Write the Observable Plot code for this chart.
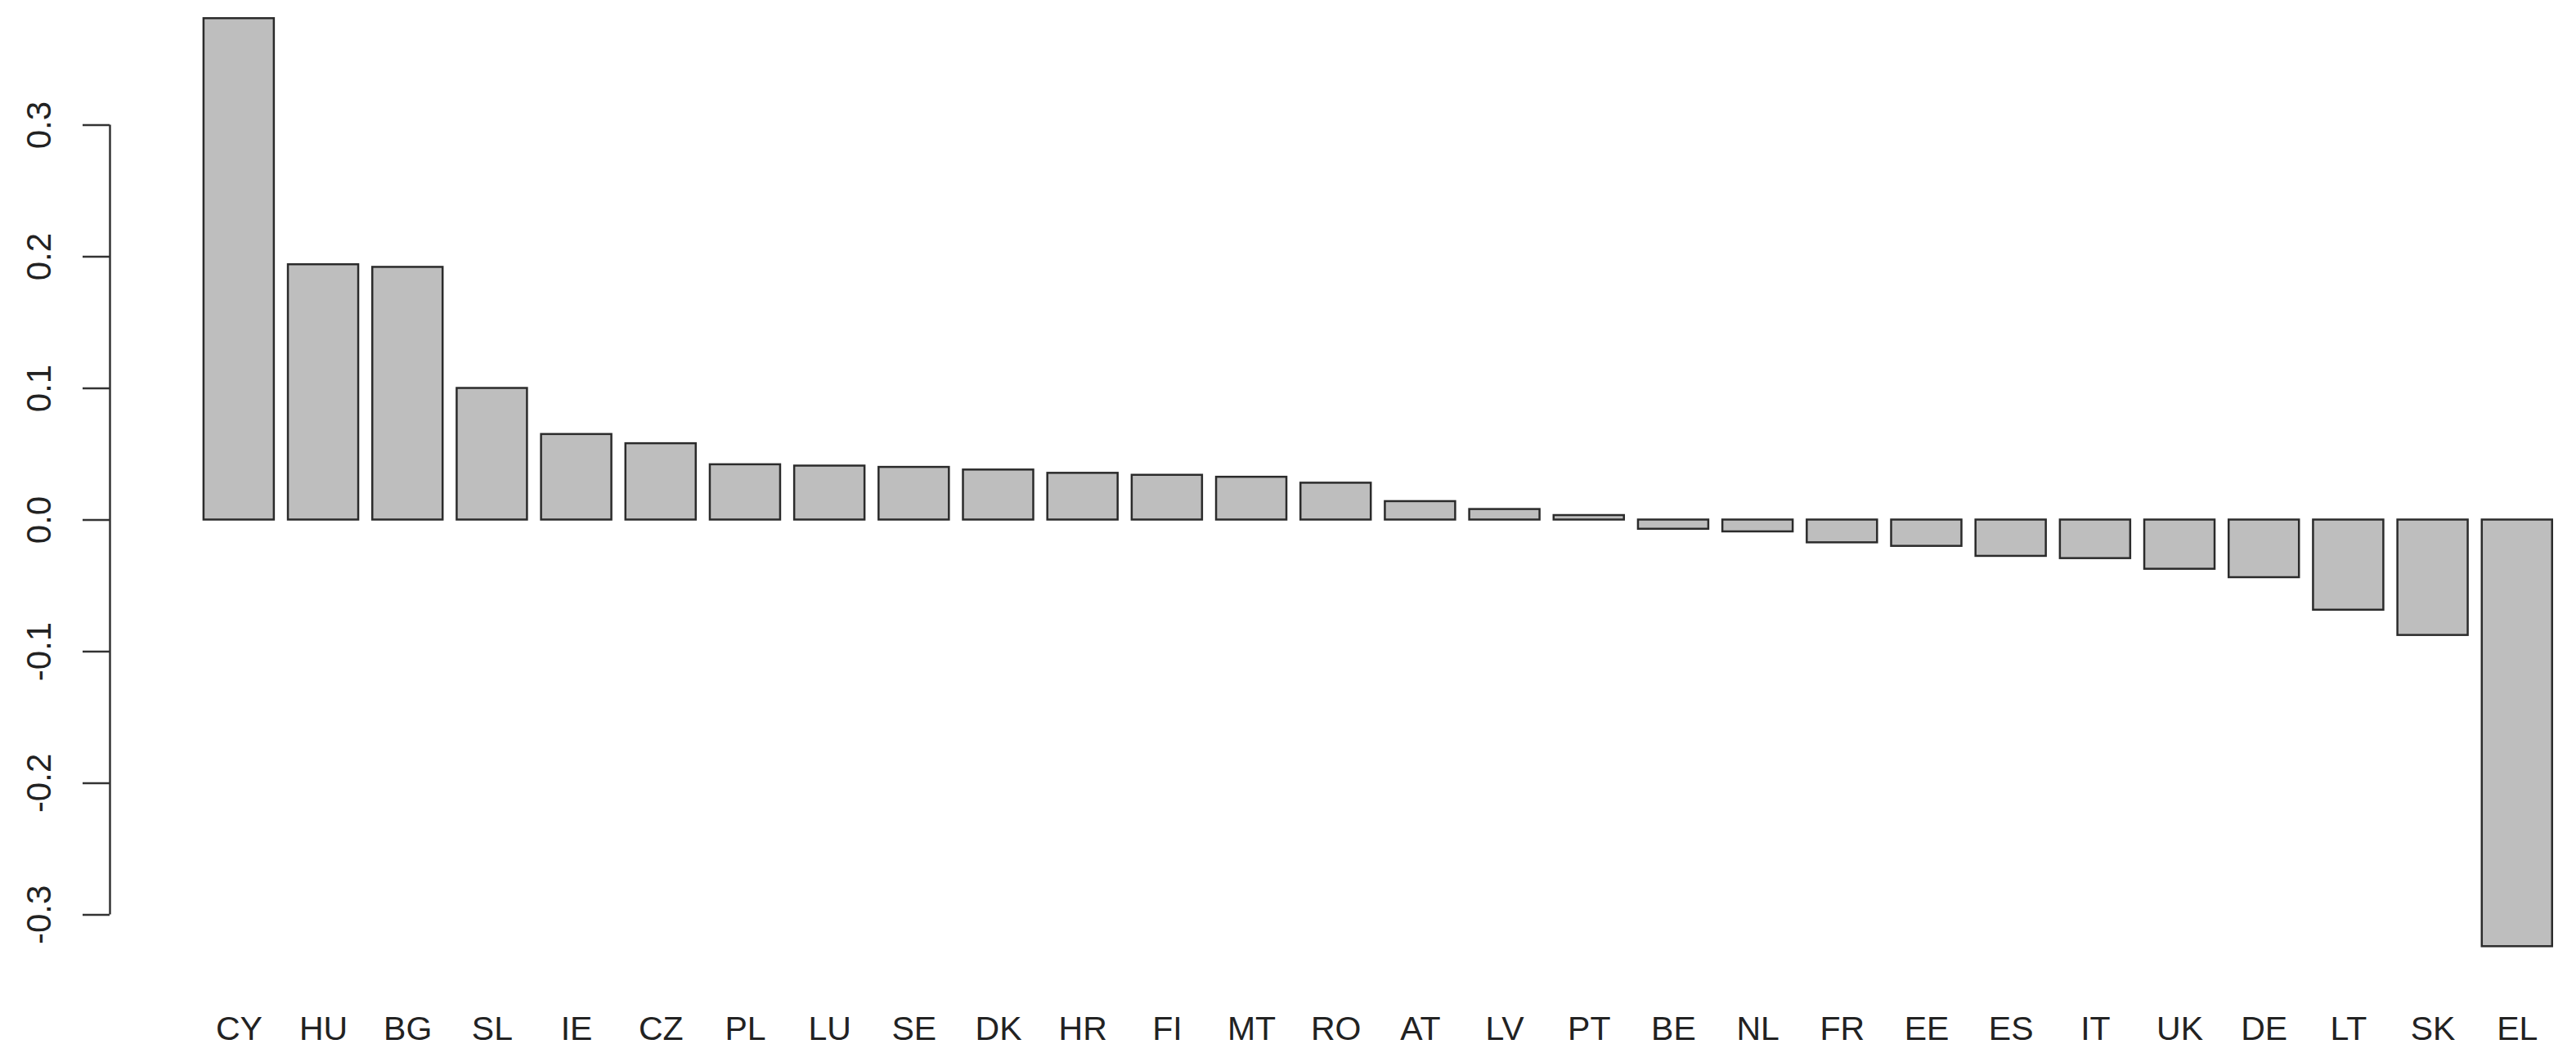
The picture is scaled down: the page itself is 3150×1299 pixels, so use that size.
<!DOCTYPE html>
<html><head><meta charset="utf-8">
<script src="https://cdn.jsdelivr.net/npm/d3@7"></script>
<script src="https://cdn.jsdelivr.net/npm/@observablehq/plot@0.6"></script>
<style>html,body{margin:0;padding:0;background:#fff;overflow:hidden}</style>
</head><body><div id="chart"></div>
<script>
const countries = ["CY","HU","BG","SL","IE","CZ","PL","LU","SE","DK","HR","FI","MT","RO","AT","LV","PT","BE","NL","FR","EE","ES","IT","UK","DE","LT","SK","EL"];
const values = [0.381,0.194,0.192,0.100,0.065,0.058,0.042,0.041,0.040,0.038,0.0355,0.034,0.0325,0.028,0.014,0.008,0.0034,-0.007,-0.009,-0.0173,-0.020,-0.0276,-0.0293,-0.0374,-0.0438,-0.0685,-0.0877,-0.3242];
const yTicks = [-0.3,-0.2,-0.1,0,0.1,0.2,0.3];
const yTickLabels = ["-0.3","-0.2","-0.1","0.0","0.1","0.2","0.3"];

// R barplot geometry: bar width 1, space 0.2
const barWidth = 1, space = 0.2;
const data = countries.map((c, i) => ({
  country: c, value: values[i],
  x1: space + i * (barWidth + space),
  x2: (i + 1) * (barWidth + space)
}));
const centers = data.map(d => (d.x1 + d.x2) / 2);
const xlim = [space, countries.length * (barWidth + space)];
const xLeft = xlim[0] - 0.04 * (xlim[1] - xlim[0]);

const chart = Plot.plot({
  width: 3150, height: 1299,
  marginLeft: 134, marginRight: 0, marginTop: 0, marginBottom: 99,
  x: {type: "linear", domain: [xLeft, 33.94]},
  y: {domain: [-0.3507, 0.3948]},
  style: {fontFamily: "'Liberation Sans', Arial, sans-serif", background: "#fff", color: "#222"},
  marks: [
    Plot.rect(data, {x1: "x1", x2: "x2", y1: () => 0, y2: "value", fill: "#bebebe", stroke: "#2b2b2b", strokeWidth: 2.5}),
    Plot.ruleX([xLeft], {y1: -0.3, y2: 0.3, stroke: "#333", strokeWidth: 2.5}),
    Plot.axisY(yTicks, {anchor: "left", tickSize: 33, tickRotate: -90, tickPadding: 40,
      tickFormat: d => yTickLabels[yTicks.indexOf(d)], fontSize: 42, stroke: "#333", strokeWidth: 2.5, label: null}),
    Plot.axisX(centers, {anchor: "bottom", tickSize: 0, tickPadding: 42,
      tickFormat: d => countries[centers.indexOf(d)], fontSize: 41, label: null})
  ]
});
document.getElementById("chart").appendChild(chart);
</script>
</body></html>
